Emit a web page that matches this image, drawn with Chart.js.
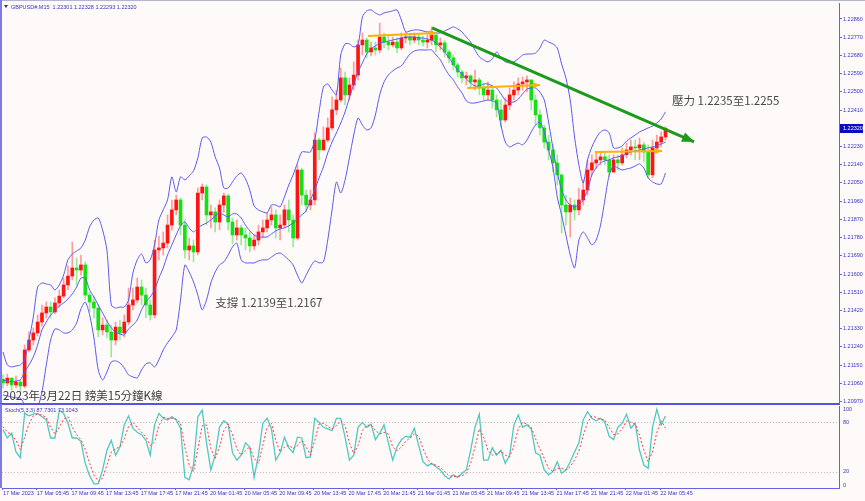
<!DOCTYPE html>
<html>
<head>
<meta charset="utf-8">
<script src="https://cdn.jsdelivr.net/npm/chart.js@4.4.1/dist/chart.umd.min.js"></script>
<style>
html, body { margin: 0; padding: 0; background: #fffafa; }
#wrap { position: relative; width: 865px; height: 501px; overflow: hidden; }
canvas { position: absolute; left: 0; }
#mainCanvas { top: 0; }
#stochCanvas { top: 404px; }
</style>
</head>
<body>
<div id="wrap">
<canvas id="mainCanvas" width="865" height="405"></canvas>
<canvas id="stochCanvas" width="865" height="97"></canvas>
</div>
<script>
'use strict';

// GBPUSD M15, one candle per two bars (index 0 = 17 Mar ~02:00)
const firstOpen = 1.21080;
const closes = [
    1.21062, 1.21086, 1.21052, 1.21067, 1.21047, 1.21225, 1.21274, 1.21309, 1.21363, 1.21408,
    1.21437, 1.21413, 1.21457, 1.21491, 1.21546, 1.21590, 1.21630, 1.21620, 1.21645, 1.21496,
    1.21462, 1.21432, 1.21324, 1.21348, 1.21314, 1.21274, 1.21338, 1.21309, 1.21363, 1.21447,
    1.21472, 1.21536, 1.21496, 1.21447, 1.21398, 1.21719, 1.21729, 1.21753, 1.21842, 1.21917,
    1.21966, 1.21842, 1.21719, 1.21739, 1.21709, 1.22000, 1.22030, 1.21892, 1.21907, 1.21857,
    1.21941, 1.21986, 1.21857, 1.21793, 1.21828, 1.21793, 1.21778, 1.21739, 1.21768, 1.21808,
    1.21828, 1.21867, 1.21892, 1.21828, 1.21842, 1.21917, 1.21867, 1.21778, 1.22114, 1.21990,
    1.21941, 1.21966, 1.22262, 1.22213, 1.22262, 1.22322, 1.22411, 1.22460, 1.22569, 1.22485,
    1.22534, 1.22583, 1.22732, 1.22756, 1.22697, 1.22717, 1.22707, 1.22771, 1.22746, 1.22732,
    1.22746, 1.22717, 1.22766, 1.22771, 1.22756, 1.22771, 1.22756, 1.22746, 1.22756, 1.22781,
    1.22732, 1.22742, 1.22697, 1.22668, 1.22633, 1.22598, 1.22569, 1.22579, 1.22549, 1.22559,
    1.22519, 1.22485, 1.22509, 1.22460, 1.22411, 1.22361, 1.22435, 1.22485, 1.22509, 1.22539,
    1.22549, 1.22559, 1.22460, 1.22386, 1.22322, 1.22252, 1.22213, 1.22149, 1.22090, 1.21941,
    1.21907, 1.21941, 1.21917, 1.21966, 1.22015, 1.22114, 1.22149, 1.22164, 1.22179, 1.22164,
    1.22104, 1.22164, 1.22149, 1.22189, 1.22213, 1.22228, 1.22223, 1.22238, 1.22203, 1.22090,
    1.22223, 1.22252, 1.22277, 1.22320
];
const highs = [
    1.21102, 1.21106, 1.21086, 1.21096, 1.21077, 1.21250, 1.21314, 1.21334, 1.21398, 1.21447,
    1.21462, 1.21462, 1.21482, 1.21521, 1.21580, 1.21640, 1.21758, 1.21679, 1.21694, 1.21660,
    1.21511, 1.21487, 1.21447, 1.21383, 1.21373, 1.21348, 1.21363, 1.21373, 1.21398, 1.21531,
    1.21531, 1.21580, 1.21571, 1.21531, 1.21472, 1.21768, 1.21788, 1.21808, 1.21892, 1.21966,
    1.21990, 1.21976, 1.21867, 1.21778, 1.21768, 1.22025, 1.22045, 1.22040, 1.21941, 1.21927,
    1.21966, 1.22000, 1.21995, 1.21877, 1.21867, 1.21842, 1.21828, 1.21808, 1.21793, 1.21842,
    1.21867, 1.21902, 1.21932, 1.21917, 1.21892, 1.21941, 1.21966, 1.21892, 1.22139, 1.22124,
    1.22015, 1.22015, 1.22297, 1.22272, 1.22327, 1.22371, 1.22475, 1.22509, 1.22618, 1.22598,
    1.22569, 1.22648, 1.22756, 1.22791, 1.22766, 1.22746, 1.22746, 1.22840, 1.22791, 1.22781,
    1.22771, 1.22766, 1.22791, 1.22796, 1.22791, 1.22791, 1.22781, 1.22776, 1.22781, 1.22821,
    1.22781, 1.22766, 1.22756, 1.22707, 1.22682, 1.22643, 1.22608, 1.22598, 1.22584, 1.22608,
    1.22569, 1.22539, 1.22549, 1.22534, 1.22485, 1.22460, 1.22470, 1.22519, 1.22549, 1.22569,
    1.22574, 1.22579, 1.22559, 1.22485, 1.22411, 1.22336, 1.22287, 1.22238, 1.22189, 1.22090,
    1.21990, 1.21976, 1.21966, 1.22025, 1.22065, 1.22164, 1.22189, 1.22203, 1.22203, 1.22198,
    1.22189, 1.22189, 1.22189, 1.22223, 1.22247, 1.22262, 1.22262, 1.22272, 1.22252, 1.22238,
    1.22262, 1.22287, 1.22302, 1.22328
];
const lows = [
    1.21037, 1.21047, 1.21027, 1.21037, 1.21017, 1.21037, 1.21215, 1.21250, 1.21294, 1.21343,
    1.21383, 1.21383, 1.21403, 1.21437, 1.21482, 1.21521, 1.21571, 1.21546, 1.21595, 1.21472,
    1.21413, 1.21383, 1.21289, 1.21299, 1.21284, 1.21190, 1.21250, 1.21274, 1.21289, 1.21348,
    1.21423, 1.21457, 1.21447, 1.21383, 1.21373, 1.21383, 1.21670, 1.21694, 1.21729, 1.21818,
    1.21892, 1.21793, 1.21679, 1.21670, 1.21660, 1.21694, 1.21966, 1.21842, 1.21828, 1.21808,
    1.21818, 1.21907, 1.21818, 1.21749, 1.21768, 1.21744, 1.21719, 1.21709, 1.21719, 1.21744,
    1.21778, 1.21808, 1.21842, 1.21778, 1.21768, 1.21828, 1.21808, 1.21734, 1.21768, 1.21941,
    1.21907, 1.21917, 1.21941, 1.22164, 1.22213, 1.22252, 1.22312, 1.22386, 1.22450, 1.22435,
    1.22460, 1.22509, 1.22559, 1.22682, 1.22668, 1.22677, 1.22682, 1.22692, 1.22717, 1.22707,
    1.22722, 1.22692, 1.22707, 1.22742, 1.22732, 1.22742, 1.22732, 1.22727, 1.22717, 1.22732,
    1.22697, 1.22707, 1.22672, 1.22643, 1.22608, 1.22574, 1.22544, 1.22534, 1.22519, 1.22509,
    1.22485, 1.22460, 1.22460, 1.22420, 1.22376, 1.22327, 1.22351, 1.22411, 1.22460, 1.22485,
    1.22509, 1.22499, 1.22411, 1.22336, 1.22287, 1.22223, 1.22164, 1.22104, 1.22040, 1.21803,
    1.21842, 1.21783, 1.21867, 1.21892, 1.21941, 1.21990, 1.22090, 1.22124, 1.22139, 1.22139,
    1.22080, 1.22104, 1.22114, 1.22139, 1.22174, 1.22189, 1.22164, 1.22164, 1.22154, 1.22075,
    1.22075, 1.22213, 1.22228, 1.22262
];

// Bollinger bands as drawn on the chart
const bbUpper = [
    1.21215, 1.21151, 1.21141, 1.21146, 1.21151, 1.21176, 1.21274, 1.21388, 1.21536, 1.21556,
    1.21551, 1.21546, 1.21521, 1.21546, 1.21595, 1.21670, 1.21699, 1.21714, 1.21729, 1.21768,
    1.21833, 1.21867, 1.21877, 1.21818, 1.21719, 1.21447, 1.21432, 1.21437, 1.21437, 1.21472,
    1.21605, 1.21670, 1.21699, 1.21655, 1.21670, 1.21744, 1.21867, 1.21917, 1.21966, 1.22080,
    1.22005, 1.22080, 1.22065, 1.22085, 1.22109, 1.22174, 1.22272, 1.22277, 1.22252, 1.22179,
    1.22124, 1.22025, 1.22025, 1.22055, 1.22085, 1.22099, 1.22070, 1.22015, 1.21936, 1.21917,
    1.21907, 1.21902, 1.21941, 1.21941, 1.21932, 1.21981, 1.22040, 1.22090, 1.22149, 1.22203,
    1.22203, 1.22203, 1.22262, 1.22401, 1.22524, 1.22539, 1.22509, 1.22485, 1.22682, 1.22737,
    1.22737, 1.22722, 1.22732, 1.22870, 1.22900, 1.22905, 1.22890, 1.22880, 1.22890, 1.22895,
    1.22900, 1.22905, 1.22855, 1.22796, 1.22801, 1.22806, 1.22806, 1.22801, 1.22796, 1.22796,
    1.22791, 1.22791, 1.22801, 1.22811, 1.22821, 1.22811, 1.22796, 1.22771, 1.22746, 1.22707,
    1.22673, 1.22658, 1.22648, 1.22663, 1.22697, 1.22668, 1.22648, 1.22643, 1.22648, 1.22663,
    1.22682, 1.22687, 1.22687, 1.22692, 1.22717, 1.22756, 1.22746, 1.22737, 1.22717, 1.22638,
    1.22569, 1.22460, 1.22277, 1.22139, 1.22050, 1.22164, 1.22228, 1.22272, 1.22302, 1.22312,
    1.22297, 1.22223, 1.22223, 1.22233, 1.22257, 1.22272, 1.22287, 1.22302, 1.22312, 1.22322,
    1.22331, 1.22346, 1.22366, 1.22401
];
const bbMiddle = [
    1.21077, 1.21072, 1.21067, 1.21072, 1.21077, 1.21116, 1.21151, 1.21190, 1.21250, 1.21324,
    1.21363, 1.21398, 1.21418, 1.21442, 1.21457, 1.21477, 1.21502, 1.21536, 1.21580, 1.21580,
    1.21521, 1.21487, 1.21447, 1.21408, 1.21368, 1.21334, 1.21314, 1.21304, 1.21299, 1.21329,
    1.21348, 1.21373, 1.21423, 1.21462, 1.21487, 1.21521, 1.21580, 1.21630, 1.21694, 1.21744,
    1.21793, 1.21838, 1.21857, 1.21828, 1.21808, 1.21828, 1.21842, 1.21852, 1.21867, 1.21887,
    1.21902, 1.21892, 1.21882, 1.21897, 1.21897, 1.21877, 1.21842, 1.21813, 1.21793, 1.21783,
    1.21783, 1.21783, 1.21798, 1.21813, 1.21823, 1.21828, 1.21838, 1.21852, 1.21872, 1.21892,
    1.21912, 1.21966, 1.22015, 1.22075, 1.22129, 1.22198, 1.22252, 1.22297, 1.22346, 1.22401,
    1.22470, 1.22539, 1.22598, 1.22643, 1.22687, 1.22712, 1.22727, 1.22742, 1.22746, 1.22751,
    1.22756, 1.22761, 1.22766, 1.22771, 1.22771, 1.22771, 1.22766, 1.22766, 1.22761, 1.22756,
    1.22742, 1.22722, 1.22697, 1.22668, 1.22638, 1.22608, 1.22589, 1.22564, 1.22544, 1.22529,
    1.22529, 1.22539, 1.22539, 1.22529, 1.22519, 1.22490, 1.22460, 1.22450, 1.22450, 1.22465,
    1.22490, 1.22514, 1.22519, 1.22519, 1.22499, 1.22460, 1.22351, 1.22223, 1.22104, 1.22015,
    1.21966, 1.21941, 1.21932, 1.21941, 1.21966, 1.22015, 1.22090, 1.22124, 1.22149, 1.22159,
    1.22164, 1.22174, 1.22179, 1.22184, 1.22193, 1.22203, 1.22208, 1.22213, 1.22218, 1.22223,
    1.22228, 1.22233, 1.22243, 1.22252
];
const bbLower = [
    1.21003, 1.20998, 1.20993, 1.20988, 1.20988, 1.20954, 1.20919, 1.20904, 1.20939, 1.21017,
    1.21151, 1.21274, 1.21329, 1.21324, 1.21309, 1.21309, 1.21324, 1.21358, 1.21428, 1.21462,
    1.21398, 1.21284, 1.21126, 1.21077, 1.21116, 1.21166, 1.21171, 1.21161, 1.21136, 1.21102,
    1.21092, 1.21087, 1.21126, 1.21156, 1.21161, 1.21141, 1.21176, 1.21225, 1.21260, 1.21289,
    1.21324, 1.21472, 1.21645, 1.21610, 1.21561, 1.21496, 1.21423, 1.21472, 1.21556, 1.21610,
    1.21645, 1.21660, 1.21694, 1.21734, 1.21753, 1.21670, 1.21655, 1.21655, 1.21655, 1.21665,
    1.21670, 1.21670, 1.21684, 1.21699, 1.21704, 1.21689, 1.21670, 1.21645, 1.21595, 1.21556,
    1.21595, 1.21635, 1.21665, 1.21655, 1.21660, 1.21768, 1.21917, 1.22055, 1.22000, 1.22065,
    1.22174, 1.22287, 1.22371, 1.22336, 1.22312, 1.22322, 1.22386, 1.22485, 1.22549, 1.22584,
    1.22603, 1.22618, 1.22628, 1.22658, 1.22687, 1.22702, 1.22707, 1.22707, 1.22707, 1.22707,
    1.22682, 1.22658, 1.22618, 1.22584, 1.22559, 1.22524, 1.22495, 1.22455, 1.22445, 1.22445,
    1.22450, 1.22455, 1.22460, 1.22455, 1.22445, 1.22336, 1.22252, 1.22228, 1.22238, 1.22247,
    1.22238, 1.22262, 1.22302, 1.22336, 1.22351, 1.22302, 1.22213, 1.22129, 1.21981, 1.21892,
    1.21793, 1.21694, 1.21630, 1.21768, 1.21808, 1.21778, 1.21744, 1.21768, 1.21842, 1.21966,
    1.22090, 1.22134, 1.22124, 1.22114, 1.22119, 1.22124, 1.22134, 1.22144, 1.22124, 1.22075,
    1.22055, 1.22045, 1.22045, 1.22099
];

// Stoch(5,3,3)
const stochMain = [
    71, 61, 67, 44, 37, 91, 88, 90, 91, 87,
    83, 61, 61, 95, 91, 79, 61, 61, 57, 30,
    15, 5, 5, 22, 46, 58, 40, 50, 77, 88,
    73, 68, 65, 58, 40, 77, 91, 85, 83, 87,
    83, 73, 13, 10, 28, 87, 95, 55, 22, 40,
    74, 82, 78, 43, 34, 40, 55, 50, 13, 40,
    79, 85, 72, 34, 43, 62, 49, 43, 62, 61,
    37, 38, 85, 80, 74, 72, 70, 85, 85, 62,
    34, 40, 74, 80, 74, 78, 59, 67, 77, 55,
    34, 50, 59, 63, 62, 73, 52, 32, 27, 30,
    26, 22, 15, 11, 16, 13, 18, 22, 46, 74,
    90, 34, 34, 49, 40, 46, 30, 40, 77, 89,
    74, 77, 72, 43, 40, 22, 16, 20, 32, 18,
    22, 32, 44, 55, 83, 93, 85, 82, 85, 80,
    63, 59, 74, 79, 90, 73, 79, 46, 28, 24,
    74, 96, 77, 87.7301
];
const stochSignal = [
    75, 68, 65, 58, 47, 62, 78, 88, 90, 89,
    86, 74, 66, 74, 84, 87, 74, 65, 59, 47,
    30, 16, 8, 12, 28, 44, 48, 50, 60, 75,
    80, 74, 68, 62, 52, 56, 76, 86, 85, 85,
    84, 79, 50, 28, 20, 48, 76, 77, 48, 36,
    50, 70, 78, 65, 48, 40, 46, 50, 36, 30,
    52, 74, 79, 58, 44, 50, 52, 48, 52, 58,
    50, 40, 58, 78, 79, 75, 72, 76, 82, 76,
    55, 42, 52, 70, 76, 77, 70, 66, 68, 66,
    50, 45, 50, 57, 61, 66, 63, 48, 36, 29,
    28, 25, 20, 15, 14, 14, 15, 18, 30, 50,
    72, 62, 46, 40, 42, 45, 40, 38, 52, 72,
    80, 78, 74, 60, 48, 36, 24, 20, 24, 24,
    22, 26, 34, 45, 64, 80, 88, 86, 84, 83,
    74, 65, 66, 72, 82, 80, 78, 64, 46, 32,
    44, 68, 82, 73.1043
];

const priceTicks = [
    1.2097, 1.2106, 1.2115, 1.2124, 1.2133, 1.2142, 1.2151, 1.2160, 1.2169, 1.2178, 1.2187,
    1.2196, 1.2205, 1.2214, 1.2223, 1.2232, 1.2241, 1.2250, 1.2259, 1.2268, 1.2277, 1.2286
];
const stochLevels = [0, 20, 80, 100];
const timeLabels = [
    '17 Mar 2023', '17 Mar 05:45', '17 Mar 09:45', '17 Mar 13:45', '17 Mar 17:45', '17 Mar 21:45',
    '20 Mar 01:45', '20 Mar 05:45', '20 Mar 09:45', '20 Mar 13:45', '20 Mar 17:45', '20 Mar 21:45',
    '21 Mar 01:45', '21 Mar 05:45', '21 Mar 09:45', '21 Mar 13:45', '21 Mar 17:45', '21 Mar 21:45',
    '22 Mar 01:45', '22 Mar 05:45'
];
const timeTickPos = [
    0, 7.8, 15.8, 23.8, 31.8, 39.8, 47.8, 55.8, 63.8, 71.8,
    79.8, 87.8, 95.8, 103.8, 111.8, 119.8, 127.8, 135.8, 143.8, 151.8
];

// hand-drawn objects (candle index, price)
const trendLine = [{ x: 99.1, y: 1.22816 }, { x: 159.6, y: 1.22253 }];
const rangeArrows = [
    [{ x: 84.3, y: 1.22776 }, { x: 100.0, y: 1.22791 }],
    [{ x: 107.2, y: 1.22519 }, { x: 124.0, y: 1.22534 }],
    [{ x: 136.7, y: 1.22203 }, { x: 152.2, y: 1.22208 }]
];
const notes = [
    { text: '壓力 1.2235至1.2255', x: 154.5, y: 1.22455 },
    { text: '支撐 1.2139至1.2167', x: 49.0, y: 1.21457 }
];
const caption = '2023年3月22日 鎊美15分鐘K線';
const header = 'GBPUSD#,M15  1.22301 1.22328 1.22293 1.22320';
const stochHeader = 'Stoch(5,3,3) 87.7301 73.1043';

const X_MIN = -0.23;
const X_MAX = 193.07;
const Y_MIN = 1.20958;
const Y_MAX = 1.22939;

const AXIS_TEXT = '#3535c2';
const FRAME = '#6464e2';
const SMALL = { family: 'Liberation Sans', size: 5.5 };
const SMALL_CSS = '5.5px "Liberation Sans", sans-serif';

const opens = closes.map((c, i) => (i === 0 ? firstOpen : closes[i - 1]));
const isUp = closes.map((c, i) => c >= opens[i]);
const toPts = (arr) => arr.map((v, i) => ({ x: i, y: v }));

const arrowPlugin = {
    id: 'arrowPlugin',
    afterDatasetsDraw(chart) {
        const ctx = chart.ctx;
        chart.data.datasets.forEach((ds, k) => {
            if (!ds.arrowSize) {
                return;
            }
            const pts = chart.getDatasetMeta(k).data;
            const a = pts[0];
            const b = pts[pts.length - 1];
            const ang = Math.atan2(b.y - a.y, b.x - a.x);
            const len = ds.arrowSize;
            const half = ds.arrowSize * 0.42;
            const bx = b.x - len * Math.cos(ang);
            const by = b.y - len * Math.sin(ang);
            ctx.save();
            ctx.fillStyle = ds.borderColor;
            ctx.beginPath();
            ctx.moveTo(b.x, b.y);
            ctx.lineTo(bx + half * Math.sin(ang), by - half * Math.cos(ang));
            ctx.lineTo(bx - half * Math.sin(ang), by + half * Math.cos(ang));
            ctx.closePath();
            ctx.fill();
            ctx.restore();
        });
    }
};

const mainDecor = {
    id: 'mainDecor',
    afterDraw(chart) {
        const ctx = chart.ctx;
        const area = chart.chartArea;
        const xs = chart.scales.x;
        const ys = chart.scales.y;
        ctx.save();
        // frame
        ctx.fillStyle = '#b4b4cc';
        ctx.fillRect(0, 0, 865, 1);
        ctx.fillStyle = '#7c7ce4';
        ctx.fillRect(0, 0, 2, 405);
        ctx.fillStyle = '#5555e0';
        ctx.fillRect(0, 403, area.right + 1, 2);

        // header
        ctx.fillStyle = '#2a2aa8';
        ctx.beginPath();
        ctx.moveTo(4, 5);
        ctx.lineTo(8, 5);
        ctx.lineTo(6, 8);
        ctx.closePath();
        ctx.fill();
        ctx.font = SMALL_CSS;
        ctx.textBaseline = 'middle';
        ctx.fillStyle = AXIS_TEXT;
        ctx.fillText(header, 11, 7);

        // notes
        ctx.font = '11.5px "Noto Sans CJK TC", sans-serif';
        ctx.fillStyle = '#4a4a4a';
        notes.forEach((n) => {
            ctx.fillText(n.text, xs.getPixelForValue(n.x), ys.getPixelForValue(n.y));
        });

        ctx.font = '11.5px "Noto Sans CJK TC", sans-serif';
        ctx.fillStyle = '#3c3c3c';
        ctx.fillText(caption, area.left + 1, area.bottom - 8);

        // current price tag
        const last = closes[closes.length - 1];
        const py = Math.round(ys.getPixelForValue(last));
        ctx.fillStyle = '#0c0cc4';
        ctx.fillRect(area.right + 1, py - 4, 23, 9);
        ctx.fillStyle = '#ffffff';
        ctx.font = SMALL_CSS;
        ctx.fillText(last.toFixed(5), area.right + 4, py + 0.5);
        ctx.restore();
    }
};

new Chart(document.getElementById('mainCanvas'), {
    type: 'bar',
    data: {
        datasets: [
            {
                type: 'line', data: trendLine, borderColor: '#1c9a1c', borderWidth: 3,
                pointRadius: 0, arrowSize: 12, order: 0
            },
            ...rangeArrows.map((seg) => ({
                type: 'line', data: seg, borderColor: '#ffb000', borderWidth: 2,
                pointRadius: 0, arrowSize: 7, order: 0
            })),
            {
                type: 'line', data: toPts(bbUpper), borderColor: '#5a5af0', borderWidth: 1,
                pointRadius: 0, tension: 0.25, order: 1
            },
            {
                type: 'line', data: toPts(bbMiddle), borderColor: '#5a5af0', borderWidth: 1,
                pointRadius: 0, tension: 0.25, order: 1
            },
            {
                type: 'line', data: toPts(bbLower), borderColor: '#5a5af0', borderWidth: 1,
                pointRadius: 0, tension: 0.25, order: 1
            },
            {
                type: 'bar',
                data: closes.map((c, i) => ({ x: i, y: [opens[i], c] })),
                backgroundColor: isUp.map((u) => (u ? '#ff1414' : '#14e014')),
                borderWidth: 0, barThickness: 3, grouped: false, minBarLength: 1, order: 2
            },
            {
                type: 'bar',
                data: closes.map((c, i) => ({
                    x: i,
                    y: [Math.min(lows[i], opens[i], c), Math.max(highs[i], opens[i], c)]
                })),
                backgroundColor: isUp.map((u) => (u ? '#ff9a9a' : '#98ec98')),
                borderWidth: 0, barThickness: 1, grouped: false, order: 3
            }
        ]
    },
    options: {
        responsive: false,
        animation: false,
        devicePixelRatio: 1,
        layout: { padding: { left: 2, top: 3, right: 0, bottom: 1 } },
        plugins: { legend: { display: false }, tooltip: { enabled: false } },
        scales: {
            x: { type: 'linear', min: X_MIN, max: X_MAX, offset: false, display: false },
            y: {
                position: 'right',
                min: Y_MIN,
                max: Y_MAX,
                afterBuildTicks: (s) => { s.ticks = priceTicks.map((v) => ({ value: v })); },
                afterFit: (s) => { s.width = 26; s.paddingTop = 0; s.paddingBottom = 0; },
                ticks: { font: SMALL, color: AXIS_TEXT, padding: 1, callback: (v) => v.toFixed(5) },
                grid: { drawOnChartArea: false, tickLength: 3, color: FRAME },
                border: { color: FRAME }
            }
        }
    },
    plugins: [arrowPlugin, mainDecor]
});

const stochDecor = {
    id: 'stochDecor',
    beforeDatasetsDraw(chart) {
        const ctx = chart.ctx;
        const area = chart.chartArea;
        const ys = chart.scales.y;
        ctx.save();
        ctx.strokeStyle = '#bdbdbd';
        ctx.lineWidth = 1;
        ctx.setLineDash([1, 2]);
        [20, 80].forEach((v) => {
            const y = Math.round(ys.getPixelForValue(v)) + 0.5;
            ctx.beginPath();
            ctx.moveTo(area.left, y);
            ctx.lineTo(area.right, y);
            ctx.stroke();
        });
        ctx.restore();
    },
    afterDraw(chart) {
        const ctx = chart.ctx;
        const area = chart.chartArea;
        const ys = chart.scales.y;
        ctx.save();
        ctx.fillStyle = '#7c7ce4';
        ctx.fillRect(0, 0, 2, area.bottom);
        ctx.font = SMALL_CSS;
        ctx.textBaseline = 'middle';
        ctx.fillStyle = AXIS_TEXT;
        ctx.fillText(stochHeader, 5, 6);
        stochLevels.forEach((v) => {
            let y = ys.getPixelForValue(v);
            if (v === 100) { y += 3; }
            if (v === 0) { y -= 3; }
            ctx.fillText(String(v), area.right + 4, y);
        });
        ctx.restore();
    }
};

new Chart(document.getElementById('stochCanvas'), {
    type: 'line',
    data: {
        datasets: [
            {
                data: toPts(stochSignal), borderColor: '#ff3a3a', borderWidth: 1,
                borderDash: [2, 2], pointRadius: 0, order: 0
            },
            {
                data: toPts(stochMain), borderColor: '#4fc9bf', borderWidth: 1.3,
                pointRadius: 0, order: 1
            }
        ]
    },
    options: {
        responsive: false,
        animation: false,
        devicePixelRatio: 1,
        layout: { padding: { left: 2, top: 2, right: 0, bottom: 0 } },
        plugins: { legend: { display: false }, tooltip: { enabled: false } },
        scales: {
            x: {
                type: 'linear',
                min: X_MIN,
                max: X_MAX,
                offset: false,
                afterBuildTicks: (s) => { s.ticks = timeTickPos.map((v) => ({ value: v })); },
                afterFit: (s) => { s.height = 13; s.paddingLeft = 0; s.paddingRight = 0; },
                ticks: {
                    autoSkip: false, maxRotation: 0, minRotation: 0, align: 'start', padding: 0,
                    font: SMALL, color: AXIS_TEXT,
                    callback: (v, idx) => timeLabels[idx]
                },
                grid: { drawOnChartArea: false, tickLength: 2, color: FRAME },
                border: { color: FRAME }
            },
            y: {
                position: 'right',
                min: 0,
                max: 100,
                afterFit: (s) => { s.width = 26; s.paddingTop = 0; s.paddingBottom = 0; },
                ticks: { display: false },
                grid: { display: false },
                border: { color: FRAME }
            }
        }
    },
    plugins: [stochDecor]
});
</script>
</body>
</html>
